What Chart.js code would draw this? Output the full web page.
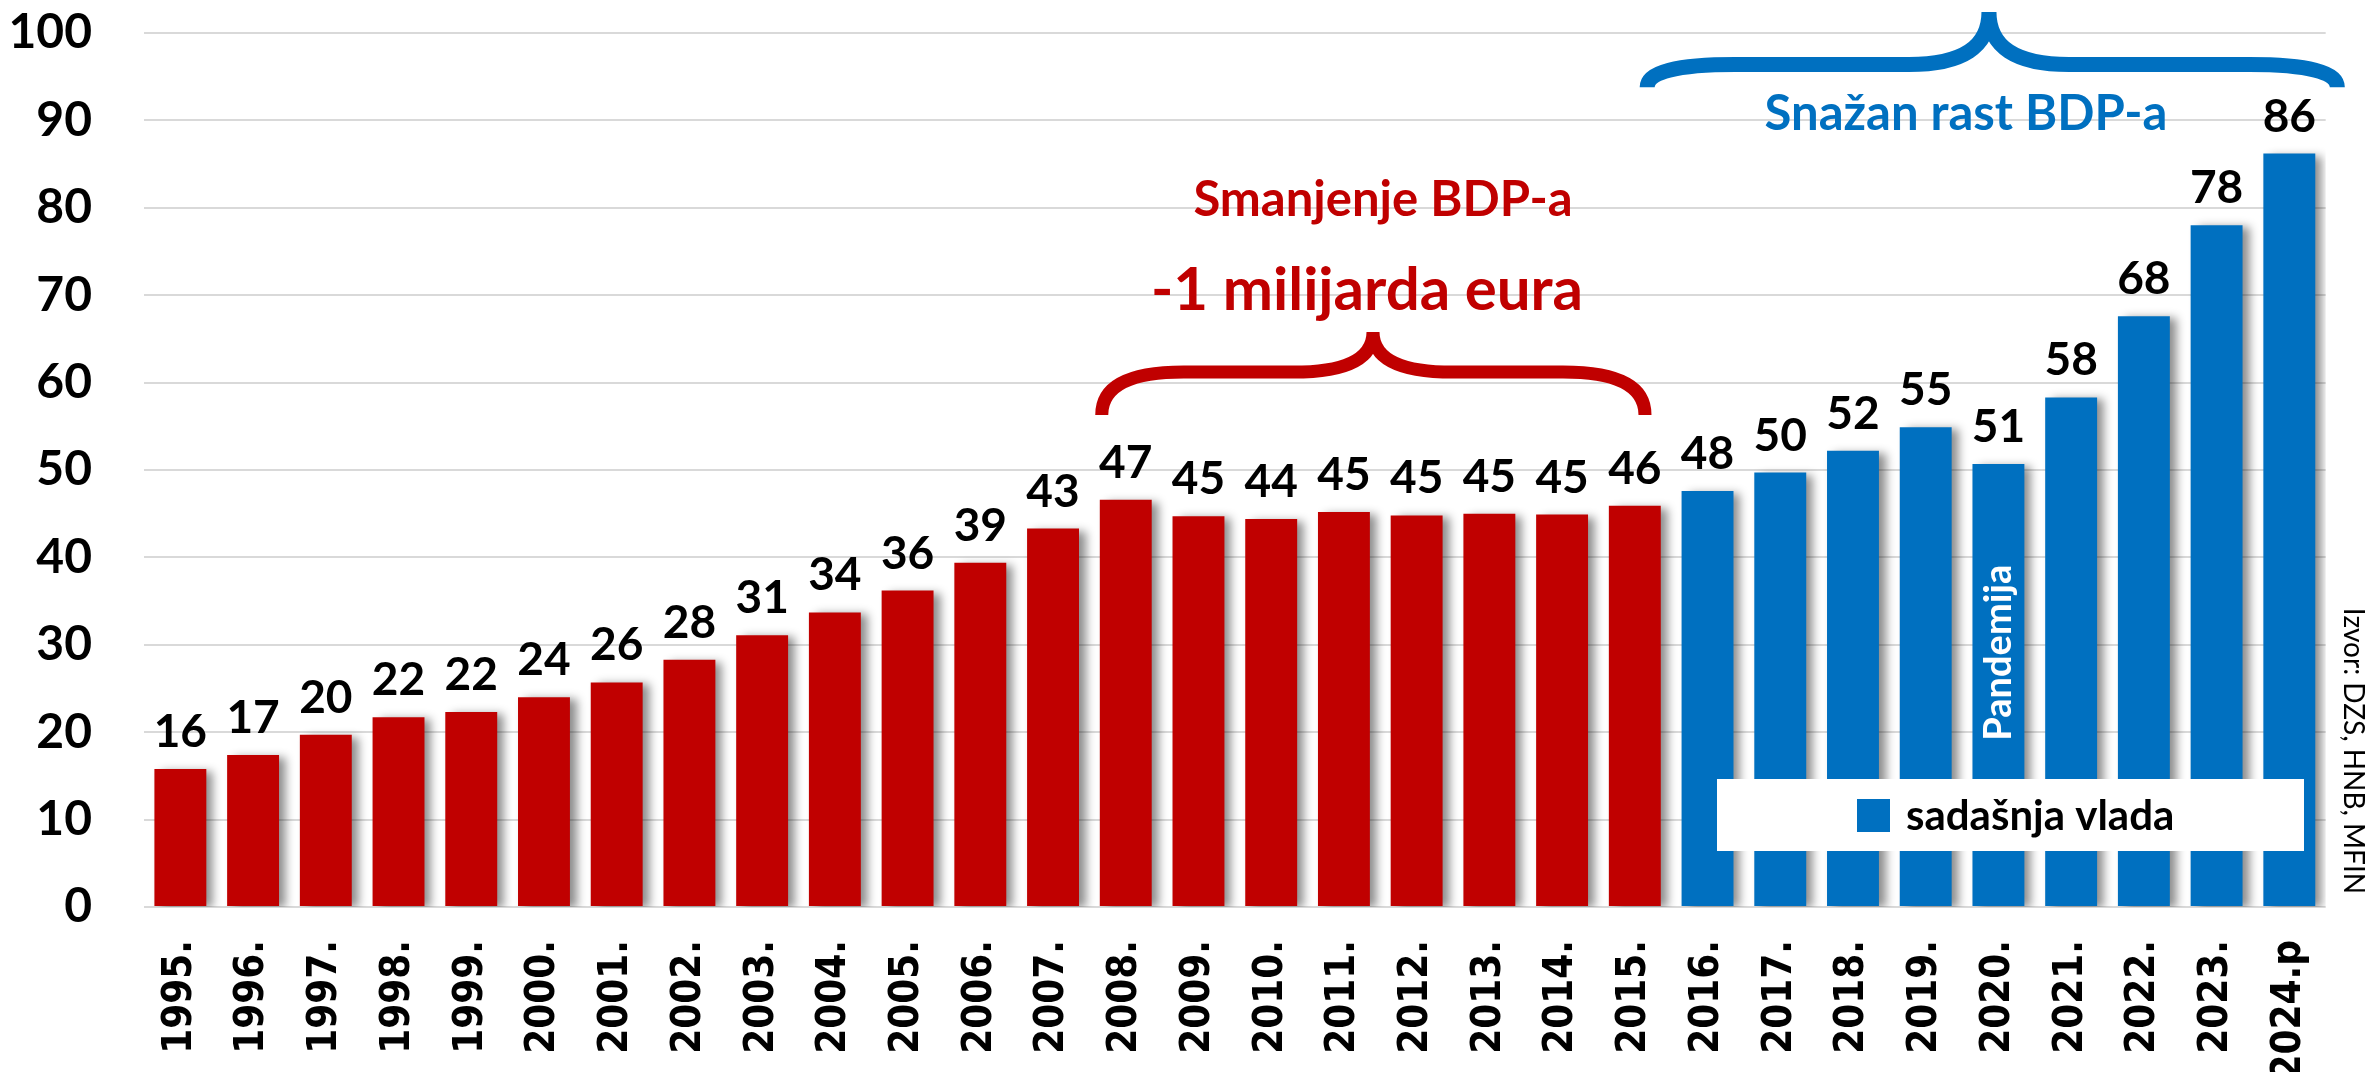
<!DOCTYPE html>
<html>
<head>
<meta charset="utf-8">
<script src="https://cdn.jsdelivr.net/npm/chart.js@4.4.0/dist/chart.umd.min.js"></script>
<style>
  html, body { margin: 0; padding: 0; background: #fff; }
  canvas { display: block; }
</style>
</head>
<body>
<canvas id="chart" width="2371" height="1072"></canvas>
<script>
// BDP (mlrd eura), 1995 - 2024 (p = procjena)
const years = ["1995.", "1996.", "1997.", "1998.", "1999.", "2000.", "2001.", "2002.", "2003.", "2004.",
  "2005.", "2006.", "2007.", "2008.", "2009.", "2010.", "2011.", "2012.", "2013.", "2014.", "2015.",
  "2016.", "2017.", "2018.", "2019.", "2020.", "2021.", "2022.", "2023.", "2024.p"];

// 1995 - 2015
const prevGdp = [15.8, 17.4, 19.7, 21.7, 22.3, 24.0, 25.7, 28.3, 31.1, 33.7,
  36.2, 39.4, 43.3, 46.6, 44.7, 44.4, 45.2, 44.8, 45.0, 44.9, 45.9];
// 2016 - 2024.p
const currGdp = [47.6, 49.7, 52.2, 54.9, 50.7, 58.3, 67.6, 78.0, 86.2];

const yTicks = [0, 10, 20, 30, 40, 50, 60, 70, 80, 90, 100];

const RED = "#C00000";
const BLUE = "#0070C0";
const NUM_FONT = "Lato";

// bar shadow (like the excel original)
const shadowPlugin = {
  id: "barShadow",
  beforeDatasetDraw(chart) {
    const ctx = chart.ctx;
    ctx.save();
    ctx.shadowColor = "rgba(0,0,0,0.45)";
    ctx.shadowBlur = 9;
    ctx.shadowOffsetX = 7;
    ctx.shadowOffsetY = 2;
  },
  afterDatasetDraw(chart) {
    chart.ctx.restore();
  }
};

// value labels above the bars
const valueLabels = {
  id: "valueLabels",
  afterDatasetsDraw(chart) {
    const ctx = chart.ctx;
    ctx.save();
    ctx.font = `bold 46px ${NUM_FONT}`;
    ctx.fillStyle = "#000";
    ctx.textAlign = "center";
    ctx.textBaseline = "alphabetic";
    chart.data.datasets.forEach((ds, di) => {
      const meta = chart.getDatasetMeta(di);
      meta.data.forEach((bar, i) => {
        const v = ds.data[i];
        if (v == null) return;
        ctx.fillText(Math.round(v), bar.x, bar.y - 22);
      });
    });
    ctx.restore();
  }
};

function drawBrace(ctx, x1, x2, xm, yEnd, yArm, yTip, r, r2) {
  ctx.beginPath();
  ctx.moveTo(x1, yEnd);
  ctx.quadraticCurveTo(x1, yArm, x1 + r, yArm);
  ctx.lineTo(xm - r2, yArm);
  ctx.quadraticCurveTo(xm, yArm, xm, yTip);
  ctx.moveTo(xm, yTip);
  ctx.quadraticCurveTo(xm, yArm, xm + r2, yArm);
  ctx.lineTo(x2 - r, yArm);
  ctx.quadraticCurveTo(x2, yArm, x2, yEnd);
  ctx.stroke();
}

// braces, notes, legend, source
const notes = {
  id: "notes",
  afterDraw(chart) {
    const ctx = chart.ctx;
    const x = chart.scales.x, y = chart.scales.y;
    const area = chart.chartArea;
    ctx.save();
    ctx.lineCap = "butt";

    // red brace 2008-2015
    ctx.strokeStyle = RED;
    ctx.lineWidth = 13;
    drawBrace(ctx, x.getPixelForValue(12.67), x.getPixelForValue(20.14), x.getPixelForValue(16.4),
      y.getPixelForValue(56.3), y.getPixelForValue(61.2), y.getPixelForValue(65.8), 82, 80);

    // blue brace 2016-2024
    ctx.strokeStyle = BLUE;
    ctx.lineWidth = 15;
    drawBrace(ctx, x.getPixelForValue(20.17), x.getPixelForValue(29.66), x.getPixelForValue(24.87),
      y.getPixelForValue(93.8), y.getPixelForValue(96.4), y.getPixelForValue(102.4), 88, 80);

    ctx.textAlign = "center";
    ctx.textBaseline = "alphabetic";
    ctx.fillStyle = RED;
    ctx.font = `bold 49px ${NUM_FONT}`;
    ctx.fillText("Smanjenje BDP-a", 1383, 216);
    ctx.font = `bold 60px ${NUM_FONT}`;
    ctx.fillText("-1 milijarda eura", 1367, 310);

    ctx.fillStyle = BLUE;
    ctx.font = `bold 49px ${NUM_FONT}`;
    ctx.fillText("Snažan rast BDP-a", 1966, 130);

    // Pandemija inside the 2020 bar
    const bar2020 = chart.getDatasetMeta(1).data[25];
    ctx.save();
    ctx.translate(bar2020.x, y.getPixelForValue(29.1));
    ctx.rotate(-Math.PI / 2);
    ctx.fillStyle = "#fff";
    ctx.font = `bold 38px ${NUM_FONT}`;
    ctx.textBaseline = "middle";
    ctx.fillText("Pandemija", 0, 0);
    ctx.restore();

    // legend box
    const lx = 1717, ly = 779, lw = 587, lh = 72;
    ctx.fillStyle = "#fff";
    ctx.fillRect(lx, ly, lw, lh);
    ctx.fillStyle = chart.data.datasets[1].backgroundColor;
    ctx.fillRect(1857, 799, 33, 33);
    ctx.fillStyle = "#000";
    ctx.textAlign = "left";
    ctx.font = `bold 42px ${NUM_FONT}`;
    ctx.fillText(chart.data.datasets[1].label, 1906, 830);

    // source
    ctx.save();
    ctx.translate(area.right + 27, 751);
    ctx.rotate(Math.PI / 2);
    ctx.textAlign = "center";
    ctx.textBaseline = "middle";
    ctx.font = `28px ${NUM_FONT}`;
    ctx.fillStyle = "#000";
    ctx.fillText("Izvor: DZS, HNB, MFIN", 0, 0);
    ctx.restore();

    ctx.restore();
  }
};

function buildChart() {
  const ctx = document.getElementById("chart");
  new Chart(ctx, {
    type: "bar",
    data: {
      labels: years,
      datasets: [
        {
          label: "prethodne vlade",
          data: prevGdp.concat(currGdp.map(() => null)),
          backgroundColor: RED,
          grouped: false,
          barPercentage: 0.714,
          categoryPercentage: 1
        },
        {
          label: "sadašnja vlada",
          data: prevGdp.map(() => null).concat(currGdp),
          backgroundColor: BLUE,
          grouped: false,
          barPercentage: 0.714,
          categoryPercentage: 1
        }
      ]
    },
    options: {
      responsive: false,
      animation: false,
      devicePixelRatio: 1,
      layout: { padding: { top: 33, right: 41, left: 0, bottom: 0 } },
      plugins: {
        legend: { display: false },
        tooltip: { enabled: false }
      },
      scales: {
        x: {
          grid: { display: false, drawTicks: false },
          border: { display: false },
          ticks: {
            maxRotation: 90,
            minRotation: 90,
            autoSkip: false,
            padding: 33,
            color: "#000",
            font: { family: "'DejaVu Sans Condensed', 'DejaVu Sans'", weight: "bold", size: 40 }
          },
          afterFit(scale) { scale.height = 165; }
        },
        y: {
          min: yTicks[0],
          max: yTicks[yTicks.length - 1],
          grid: { color: "#D9D9D9", lineWidth: 2, drawTicks: false },
          border: { display: false },
          ticks: {
            stepSize: yTicks[1] - yTicks[0],
            padding: 52,
            color: "#000",
            font: { family: NUM_FONT, weight: "bold", size: 48 }
          },
          afterFit(scale) {
            scale.width = 144;
            scale.paddingTop = 0;
            scale.paddingBottom = 0;
          }
        }
      }
    },
    plugins: [shadowPlugin, valueLabels, notes]
  });
}

Promise.all([
  document.fonts.load(`bold 40px ${NUM_FONT}`),
  document.fonts.load(`28px ${NUM_FONT}`),
  document.fonts.load("bold 39px 'DejaVu Sans Condensed'")
]).then(buildChart, buildChart);
</script>
</body>
</html>
